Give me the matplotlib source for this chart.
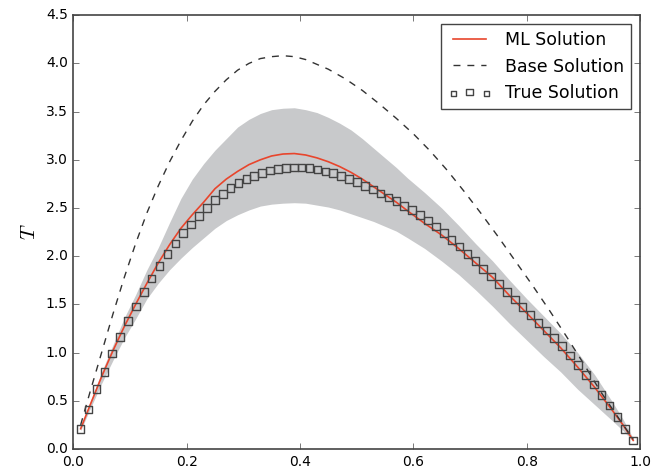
import numpy as np
import matplotlib
matplotlib.use("Agg")
import matplotlib.pyplot as plt
from matplotlib.legend_handler import HandlerPathCollection

# "True" solution: 71 samples on an even grid
x_true = np.linspace(0.013, 0.988, 71)
t_true = [0.21, 0.41, 0.62, 0.80, 0.99, 1.16, 1.33, 1.48, 1.63, 1.77,
          1.90, 2.02, 2.13, 2.24, 2.33, 2.42, 2.50, 2.58, 2.645, 2.71,
          2.76, 2.80, 2.835, 2.865, 2.89, 2.905, 2.915, 2.92, 2.92, 2.915,
          2.90, 2.88, 2.86, 2.83, 2.80, 2.77, 2.73, 2.69, 2.65, 2.61,
          2.57, 2.52, 2.48, 2.43, 2.37, 2.31, 2.24, 2.17, 2.10, 2.02,
          1.95, 1.87, 1.79, 1.71, 1.63, 1.55, 1.47, 1.39, 1.31, 1.23,
          1.15, 1.07, 0.97, 0.87, 0.77, 0.67, 0.56, 0.45, 0.33, 0.21,
          0.09]

# ML solution and its uncertainty band
x_ml = [0.013, 0.03, 0.05, 0.07, 0.09, 0.11, 0.13, 0.15, 0.17, 0.19,
        0.21, 0.23, 0.25, 0.27, 0.29, 0.31, 0.33, 0.35, 0.37, 0.39,
        0.41, 0.43, 0.45, 0.47, 0.49, 0.51, 0.53, 0.55, 0.57, 0.59,
        0.62, 0.65, 0.68, 0.71, 0.74, 0.77, 0.80, 0.83, 0.86, 0.89,
        0.92, 0.95, 0.97, 0.988]
t_ml = [0.21, 0.46, 0.75, 1.02, 1.27, 1.50, 1.72, 1.93, 2.12, 2.29,
        2.43, 2.56, 2.70, 2.80, 2.88, 2.95, 3.00, 3.04, 3.06, 3.065,
        3.05, 3.02, 2.98, 2.93, 2.87, 2.80, 2.72, 2.64, 2.56, 2.47,
        2.34, 2.22, 2.08, 1.93, 1.78, 1.59, 1.41, 1.23, 1.05, 0.85,
        0.64, 0.41, 0.25, 0.09]
t_upper = [0.23, 0.49, 0.80, 1.08, 1.36, 1.60, 1.86, 2.09, 2.35, 2.60,
           2.80, 2.96, 3.10, 3.22, 3.34, 3.42, 3.48, 3.52, 3.535, 3.54,
           3.52, 3.49, 3.44, 3.38, 3.31, 3.22, 3.12, 3.02, 2.92, 2.81,
           2.66, 2.50, 2.32, 2.13, 1.95, 1.75, 1.56, 1.38, 1.20, 1.00,
           0.77, 0.50, 0.31, 0.11]
t_lower = [0.19, 0.42, 0.68, 0.92, 1.15, 1.35, 1.56, 1.72, 1.86, 1.98,
           2.09, 2.19, 2.29, 2.37, 2.43, 2.48, 2.52, 2.54, 2.55, 2.555,
           2.55, 2.53, 2.51, 2.48, 2.44, 2.40, 2.36, 2.31, 2.26, 2.19,
           2.08, 1.95, 1.81, 1.65, 1.48, 1.30, 1.13, 0.96, 0.80, 0.62,
           0.46, 0.30, 0.19, 0.08]

# Base solution
x_base = [0.013, 0.03, 0.05, 0.07, 0.09, 0.11, 0.13, 0.15, 0.17, 0.19,
          0.21, 0.23, 0.25, 0.27, 0.29, 0.31, 0.33, 0.35, 0.37, 0.39,
          0.41, 0.43, 0.45, 0.48, 0.51, 0.54, 0.57, 0.60, 0.63, 0.66,
          0.69, 0.72, 0.75, 0.78, 0.81, 0.84, 0.87, 0.90, 0.93, 0.96,
          0.988]
t_base = [0.25, 0.60, 1.00, 1.40, 1.78, 2.13, 2.45, 2.73, 2.98, 3.20,
          3.40, 3.57, 3.71, 3.83, 3.93, 4.00, 4.05, 4.07, 4.08, 4.07,
          4.04, 3.99, 3.94, 3.84, 3.72, 3.58, 3.43, 3.27, 3.09, 2.89,
          2.67, 2.44, 2.20, 1.95, 1.70, 1.44, 1.17, 0.89, 0.60, 0.34,
          0.10]

plt.style.use("classic")

fig = plt.figure(figsize=(6.56, 4.68), dpi=100, facecolor="white")
ax = fig.add_axes([0.1117, 0.0406, 0.8639, 0.9269])

ax.fill_between(x_ml, t_lower, t_upper, color="#c8c9cb", linewidth=0)
ax.plot(x_ml, t_ml, color="#e8452c", linewidth=1.2, label="ML Solution")
ax.plot(x_base, t_base, color="#333333", linewidth=1.0, linestyle="--",
        dashes=(5, 5), label="Base Solution")
sc = ax.scatter(x_true, t_true, marker="s", s=30, facecolors="none",
                edgecolors="#444444", linewidths=1.0, label="True Solution",
                zorder=3)

ax.set_xlim(0, 1.0)
ax.set_ylim(0, 4.5)
ax.set_xticks([0.0, 0.2, 0.4, 0.6, 0.8, 1.0])
ax.set_yticks(np.arange(0, 4.51, 0.5))
ax.set_ylabel("$T$", fontsize=15)
ax.tick_params(axis="both", labelsize=10, direction="in", top=True,
               right=True, length=4, color="#444444")
for s in ax.spines.values():
    s.set_color("#444444")
    s.set_linewidth(1.2)

leg = ax.legend(loc="upper right", fontsize=12.5, scatterpoints=3,
                frameon=True, fancybox=False, borderaxespad=0.5,
                handlelength=2.5,
                handler_map={sc: HandlerPathCollection(
                    sizes=[14, 22, 14], yoffsets=[0.4, 0.5, 0.4])})
leg.get_frame().set_edgecolor("#444444")

fig.savefig("out.png", dpi=100, facecolor="white")
